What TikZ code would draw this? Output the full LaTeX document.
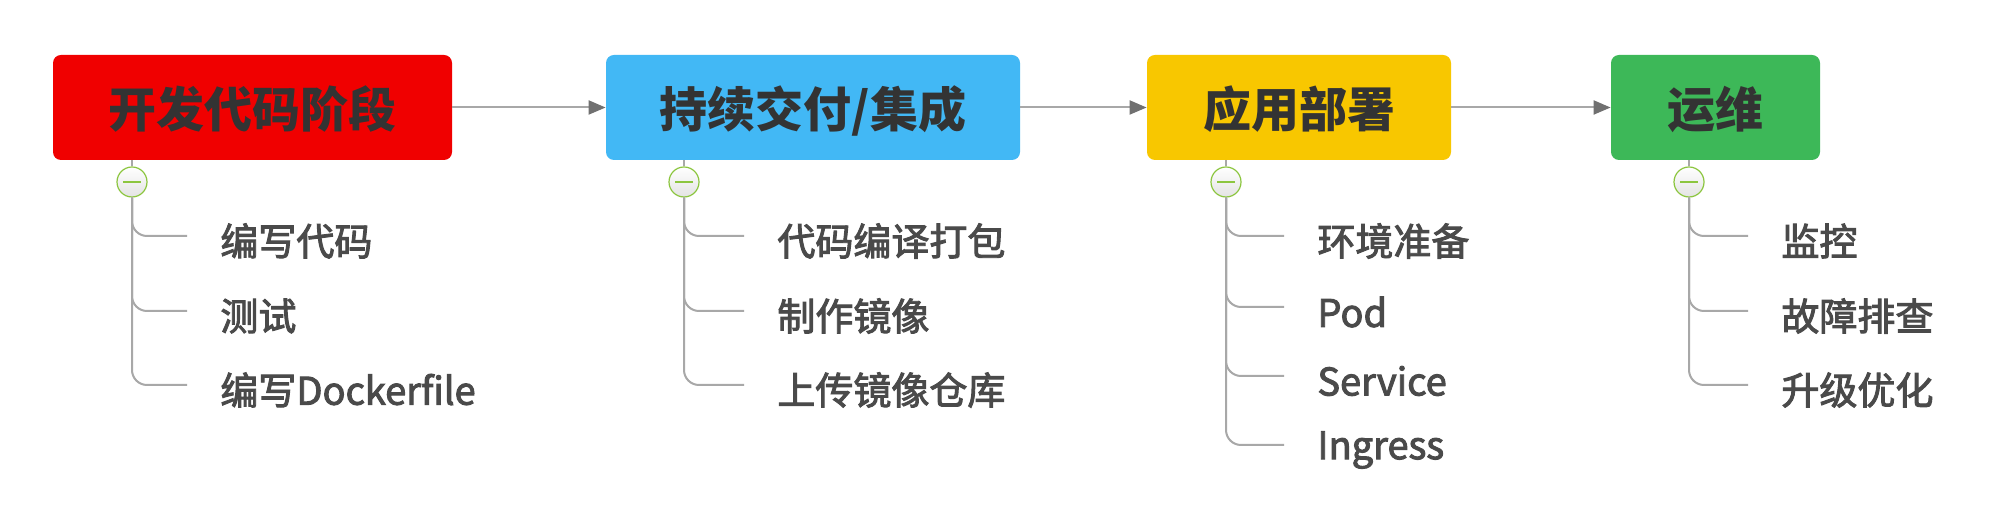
\documentclass[tikz,border=0pt]{standalone}
\usepackage{fontspec}
\newfontfamily\cjk{Noto Sans CJK SC}
\newfontfamily\cjksub[FakeBold=2.5]{Noto Sans CJK SC}
\usetikzlibrary{arrows.meta}
\definecolor{cred}{HTML}{F00000}
\definecolor{cblue}{HTML}{42B8F5}
\definecolor{cyellow}{HTML}{F8C700}
\definecolor{cgreen}{HTML}{3DB858}
\definecolor{ctext}{HTML}{333333}
\definecolor{csub}{HTML}{4A4A4A}
\definecolor{cline}{HTML}{A8A8A8}
\definecolor{ctip}{HTML}{707070}
\definecolor{cring}{HTML}{8CC63F}
\begin{document}
\begin{tikzpicture}[x=0.5pt,y=-0.5pt,
  stage/.style={rounded corners=4pt, minimum height=52.5pt, inner sep=0pt, text=ctext,
    text height=22pt, text depth=2pt,
    font=\cjk\bfseries\fontsize{24}{28}\selectfont},
  sub/.style={anchor=west, inner sep=0pt, text=csub,
    font=\cjksub\fontsize{19}{22}\selectfont},
  flow/.style={draw=cline, line width=1pt, -{Triangle[length=8.5pt,width=7pt,color=ctip]}},
  toggle/.style={circle, minimum size=15pt, inner sep=0pt, draw=cring, line width=0.6pt,
    top color=white, bottom color=gray!22},
  minus/.style={draw=cring, line width=1.1pt},
  stem/.style={draw=cline, line width=1pt},
  branch/.style={draw=cline, line width=1pt, rounded corners=7.5pt}]
\fill[white] (0,0) rectangle (1990,506);
\useasboundingbox (0,0) rectangle (1990,506);

% stages
\node[stage, fill=cred,    minimum width=199.5pt] (s1) at (252.5,107.5) {开发代码阶段};
\node[stage, fill=cblue,   minimum width=207pt]   (s2) at (813,107.5)   {持续交付/集成};
\node[stage, fill=cyellow, minimum width=152pt]   (s3) at (1299,107.5)  {应用部署};
\node[stage, fill=cgreen,  minimum width=104.5pt] (s4) at (1715.5,107.5) {运维};

% flow arrows
\draw[flow] (s1.east) -- (s2.west);
\draw[flow] (s2.east) -- (s3.west);
\draw[flow] (s3.east) -- (s4.west);

% toggles
\node[toggle] (t1) at (132,182) {};
\node[toggle] (t2) at (684,182) {};
\node[toggle] (t3) at (1226,182) {};
\node[toggle] (t4) at (1689,182) {};
\foreach \t/\s in {t1/s1,t2/s2,t3/s3,t4/s4}{
  \draw[stem] (\t.north) -- (\t.north |- \s.south);
  \draw[minus] ([xshift=-4.5pt]\t.center) -- ([xshift=4.5pt]\t.center);
}

% sub items
\node[sub] (a1) at (220,241) {编写代码};
\node[sub] (a2) at (220,316) {测试};
\node[sub] (a3) at (220,390) {编写Dockerfile};

\node[sub] (b1) at (777,241) {代码编译打包};
\node[sub] (b2) at (777,316) {制作镜像};
\node[sub] (b3) at (777,390) {上传镜像仓库};

\node[sub] (c1) at (1317,241) {环境准备};
\node[sub] (c2) at (1317,312) {Pod};
\node[sub] (c3) at (1317,381) {Service};
\node[sub] (c4) at (1317,450) {Ingress};

\node[sub] (d1) at (1781,241) {监控};
\node[sub] (d2) at (1781,316) {故障排查};
\node[sub] (d3) at (1781,390) {升级优化};

% branches
\foreach \t/\n in {t1/a1,t1/a2,t1/a3,t2/b1,t2/b2,t2/b3,t3/c1,t3/c2,t3/c3,t3/c4,t4/d1,t4/d2,t4/d3}{
  \draw[branch] (\t.south) |- ([shift={(-33,-5)}]\n.west);
}
\end{tikzpicture}
\end{document}
